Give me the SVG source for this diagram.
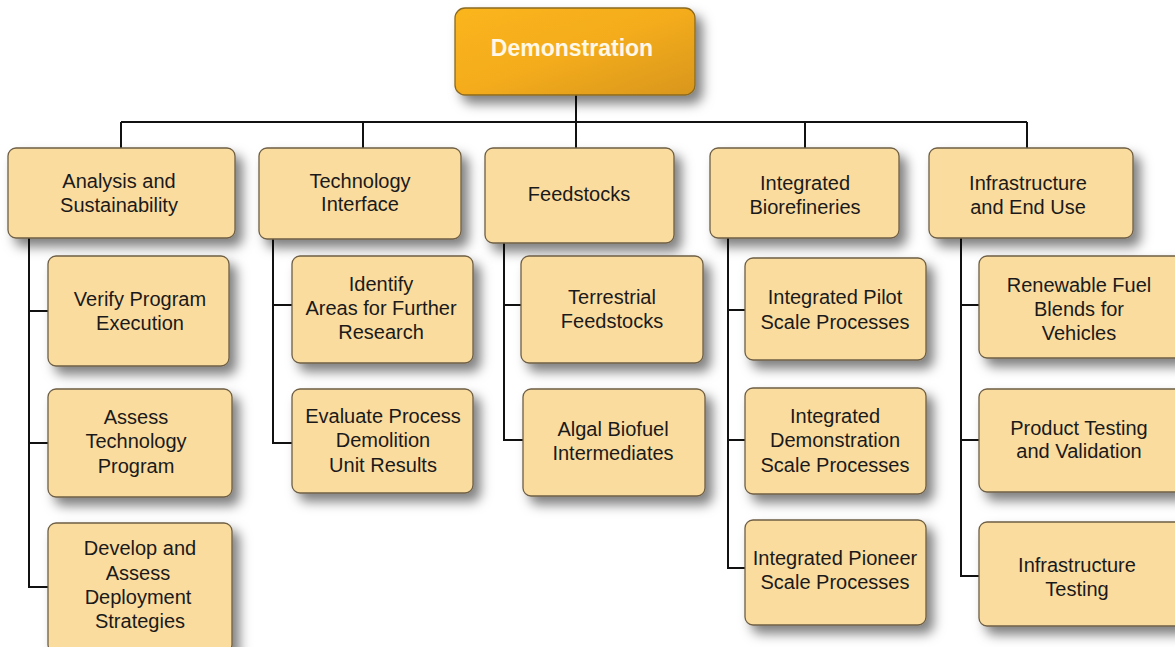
<svg xmlns="http://www.w3.org/2000/svg" width="1175" height="647" viewBox="0 0 1175 647">
<defs>
<linearGradient id="gOr" x1="0" y1="0" x2="1" y2="1">
<stop offset="0" stop-color="#FBB51E"/>
<stop offset="0.5" stop-color="#F4AC1A"/>
<stop offset="1" stop-color="#D8961A"/>
</linearGradient>
<filter id="sh" x="-20%" y="-20%" width="150%" height="160%">
<feDropShadow dx="7" dy="8" stdDeviation="6" flood-color="#000" flood-opacity="0.5"/>
</filter>
</defs>
<style>
.b{fill:#FADC9F;stroke:#6E5E44;stroke-width:1.3;filter:url(#sh)}
.t{font-family:"Liberation Sans",Arial,sans-serif;font-size:20px;fill:#1a1a1a;text-anchor:middle}
.h{font-family:"Liberation Sans",Arial,sans-serif;font-size:23px;font-weight:bold;fill:#FFF8E6;text-anchor:middle}
.c{fill:none;stroke:#111;stroke-width:2}
</style>
<rect width="1175" height="647" fill="#fff"/>
<g id="connectors">
<path class="c" d="M576 95V122M121 122H1027M121 122V148M363 122V148M576 122V148M805 122V148M1027 122V148"/>
<path class="c" d="M29 238V587H48M29 311H48M29 443H48"/>
<path class="c" d="M273 239V443H292M273 305H292"/>
<path class="c" d="M504 243V440H523M504 305H521"/>
<path class="c" d="M728 238V568H745M728 310H745M728 440H745"/>
<path class="c" d="M961 238V576H979M961 305H979M961 440H979"/>
</g>
<g id="demonstration">
<rect x="455" y="8" width="240" height="87" rx="10" fill="url(#gOr)" stroke="#8A6A20" stroke-width="1.3" filter="url(#sh)"/>
<text class="h" x="572" y="56">Demonstration</text>
</g>
<g id="analysis">
<rect class="b" x="8" y="148" width="227" height="90" rx="8"/>
<text class="t" x="119" y="188">Analysis and</text>
<text class="t" x="119" y="212">Sustainability</text>
</g>
<g id="technology">
<rect class="b" x="259" y="148" width="202" height="91" rx="8"/>
<text class="t" x="360" y="188">Technology</text>
<text class="t" x="360" y="211">Interface</text>
</g>
<g id="feedstocks">
<rect class="b" x="485" y="148" width="189" height="95" rx="8"/>
<text class="t" x="579" y="201">Feedstocks</text>
</g>
<g id="biorefineries">
<rect class="b" x="710" y="148" width="189" height="90" rx="8"/>
<text class="t" x="805" y="190">Integrated</text>
<text class="t" x="805" y="214">Biorefineries</text>
</g>
<g id="infrastructure">
<rect class="b" x="929" y="148" width="204" height="90" rx="8"/>
<text class="t" x="1028" y="190">Infrastructure</text>
<text class="t" x="1028" y="214">and End Use</text>
</g>
<g id="verify">
<rect class="b" x="48" y="256" width="181" height="110" rx="8"/>
<text class="t" x="140" y="306">Verify Program</text>
<text class="t" x="140" y="330">Execution</text>
</g>
<g id="assess">
<rect class="b" x="48" y="389" width="184" height="108" rx="8"/>
<text class="t" x="136" y="424">Assess</text>
<text class="t" x="136" y="448">Technology</text>
<text class="t" x="136" y="473">Program</text>
</g>
<g id="develop">
<rect class="b" x="48" y="523" width="184" height="130" rx="8"/>
<text class="t" x="140" y="555">Develop and</text>
<text class="t" x="138" y="580">Assess</text>
<text class="t" x="138" y="604">Deployment</text>
<text class="t" x="140" y="628">Strategies</text>
</g>
<g id="identify">
<rect class="b" x="292" y="256" width="181" height="107" rx="8"/>
<text class="t" x="381" y="291">Identify</text>
<text class="t" x="381" y="315">Areas for Further</text>
<text class="t" x="381" y="339">Research</text>
</g>
<g id="evaluate">
<rect class="b" x="292" y="389" width="181" height="104" rx="8"/>
<text class="t" x="383" y="423">Evaluate Process</text>
<text class="t" x="383" y="447">Demolition</text>
<text class="t" x="383" y="472">Unit Results</text>
</g>
<g id="terrestrial">
<rect class="b" x="521" y="256" width="182" height="107" rx="8"/>
<text class="t" x="612" y="304">Terrestrial</text>
<text class="t" x="612" y="328">Feedstocks</text>
</g>
<g id="algal">
<rect class="b" x="523" y="389" width="182" height="107" rx="8"/>
<text class="t" x="613" y="436">Algal Biofuel</text>
<text class="t" x="613" y="460">Intermediates</text>
</g>
<g id="pilot">
<rect class="b" x="745" y="258" width="181" height="102" rx="8"/>
<text class="t" x="835" y="304">Integrated Pilot</text>
<text class="t" x="835" y="329">Scale Processes</text>
</g>
<g id="demoscale">
<rect class="b" x="745" y="388" width="181" height="106" rx="8"/>
<text class="t" x="835" y="423">Integrated</text>
<text class="t" x="835" y="447">Demonstration</text>
<text class="t" x="835" y="472">Scale Processes</text>
</g>
<g id="pioneer">
<rect class="b" x="745" y="520" width="181" height="105" rx="8"/>
<text class="t" x="835" y="565">Integrated Pioneer</text>
<text class="t" x="835" y="589">Scale Processes</text>
</g>
<g id="renewable">
<rect class="b" x="979" y="256" width="205" height="102" rx="8"/>
<text class="t" x="1079" y="292">Renewable Fuel</text>
<text class="t" x="1079" y="316">Blends for</text>
<text class="t" x="1079" y="340">Vehicles</text>
</g>
<g id="product">
<rect class="b" x="979" y="389" width="205" height="103" rx="8"/>
<text class="t" x="1079" y="435">Product Testing</text>
<text class="t" x="1079" y="458">and Validation</text>
</g>
<g id="inftesting">
<rect class="b" x="979" y="522" width="205" height="104" rx="8"/>
<text class="t" x="1077" y="572">Infrastructure</text>
<text class="t" x="1077" y="596">Testing</text>
</g>
</svg>
